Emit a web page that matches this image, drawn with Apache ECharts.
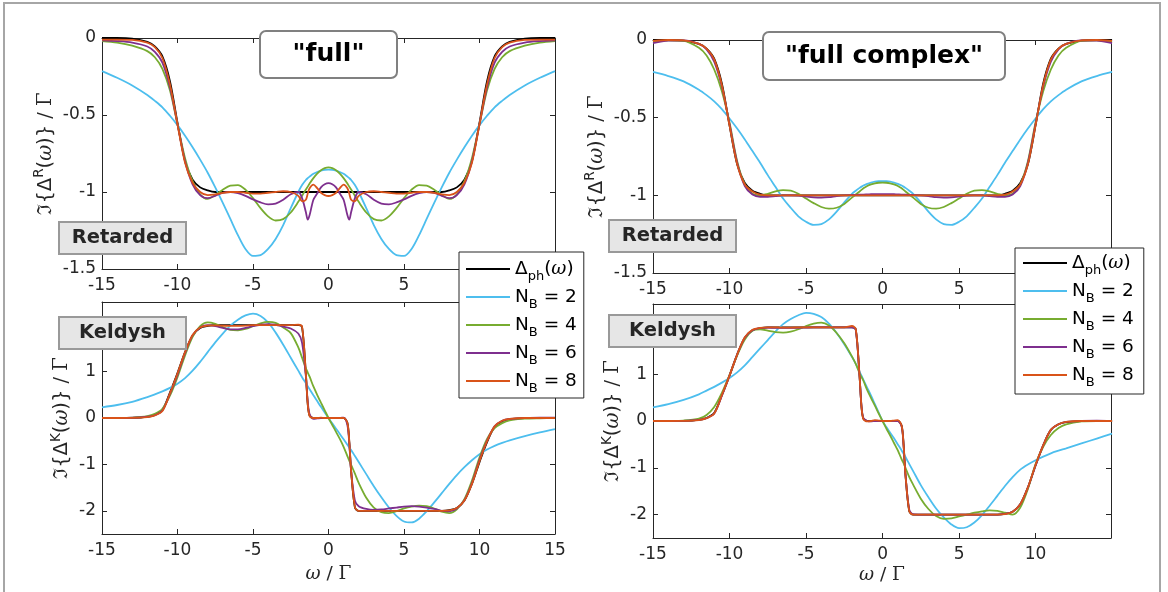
<!DOCTYPE html>
<html>
<head>
<meta charset="utf-8">
<script src="https://cdn.jsdelivr.net/npm/echarts@6/dist/echarts.min.js"></script>
<style>
  html, body { margin: 0; padding: 0; background: #fff; }
  #chart { width: 1168px; height: 592px; }
</style>
</head>
<body>
<div id="chart"></div>
<script>
// frequency grid (omega / Gamma)
const X = [-15,-14,-13,-12,-11.5,-11,-10.5,-10,-9.5,-9,-8.5,-8,-7.5,-7,-6.5,-6,-5.5,-5,-4.5,-4,-3.5,-3,-2.5,-2,-1.75,-1.5,-1.375,-1.25,-1,-0.75,-0.5,-0.25,0,
  0.25,0.5,0.75,1,1.25,1.375,1.5,1.75,2,2.5,3,3.5,4,4.5,5,5.5,6,6.5,7,7.5,8,8.5,9,9.5,10,10.5,11,11.5,12,13,14,15];

// exact Delta_ph (retarded / Keldysh)
const retBlack = [0,0,-0.004,-0.025,-0.055,-0.12,-0.28,-0.55,-0.8,-0.92,-0.97,-0.99,-1,-1,-1,-1,-1,-1,-1,-1,-1,-1,-1,-1,-1,-1,-1,-1,-1,-1,-1,-1,-1,
  -1,-1,-1,-1,-1,-1,-1,-1,-1,-1,-1,-1,-1,-1,-1,-1,-1,-1,-1,-1,-0.99,-0.97,-0.92,-0.8,-0.55,-0.28,-0.12,-0.055,-0.025,-0.004,0,0];
const kelBlack = [0,0,0.003,0.025,0.065,0.17,0.55,0.97,1.42,1.78,1.94,1.985,2,2,2,2,2,2,2,2,2,2,2,2,1.96,0.95,0.3,0.05,0,0,0,0,0,
  0,0,0,0,-0.1,-0.5,-1.15,-1.93,-2,-2,-2,-2,-2,-2,-2,-2,-2,-2,-2,-2,-1.985,-1.94,-1.78,-1.42,-0.95,-0.52,-0.19,-0.07,-0.025,-0.003,0,0];

// "full" fit, retarded
const fullRet2 = [-0.215,-0.258,-0.308,-0.37,-0.408,-0.45,-0.505,-0.566,-0.635,-0.71,-0.79,-0.875,-0.97,-1.07,-1.175,-1.28,-1.37,-1.415,-1.41,-1.37,-1.305,-1.215,-1.105,-1,-0.955,-0.922,-0.91,-0.9,-0.882,-0.87,-0.862,-0.857,-0.855,
  -0.857,-0.862,-0.87,-0.882,-0.9,-0.91,-0.922,-0.955,-1,-1.105,-1.215,-1.305,-1.37,-1.41,-1.415,-1.37,-1.28,-1.175,-1.07,-0.97,-0.875,-0.79,-0.71,-0.635,-0.566,-0.505,-0.45,-0.408,-0.37,-0.308,-0.258,-0.215];
const fullRet4 = [-0.02,-0.03,-0.05,-0.085,-0.125,-0.2,-0.34,-0.56,-0.78,-0.93,-1.015,-1.045,-1.02,-0.985,-0.958,-0.955,-0.985,-1.04,-1.105,-1.158,-1.185,-1.176,-1.133,-1.064,-1.024,-0.984,-0.965,-0.945,-0.91,-0.881,-0.859,-0.845,-0.84,
  -0.845,-0.859,-0.881,-0.91,-0.945,-0.965,-0.984,-1.024,-1.064,-1.133,-1.176,-1.185,-1.158,-1.105,-1.04,-0.985,-0.955,-0.958,-0.985,-1.02,-1.045,-1.015,-0.93,-0.78,-0.56,-0.34,-0.2,-0.125,-0.085,-0.05,-0.03,-0.02];
const fullRet6 = [-0.015,-0.02,-0.03,-0.055,-0.09,-0.16,-0.32,-0.56,-0.8,-0.95,-1.02,-1.04,-1.025,-1.005,-1,-1.008,-1.025,-1.048,-1.068,-1.08,-1.075,-1.05,-1.015,-1,-1.04,-1.13,-1.18,-1.15,-1.05,-1.01,-0.97,-0.95,-0.943,
  -0.95,-0.97,-1.01,-1.05,-1.15,-1.18,-1.13,-1.04,-1,-1.015,-1.05,-1.075,-1.08,-1.068,-1.048,-1.025,-1.008,-1,-1.005,-1.025,-1.04,-1.02,-0.95,-0.8,-0.56,-0.32,-0.16,-0.09,-0.055,-0.03,-0.02,-0.015];
const fullRet8 = [-0.01,-0.01,-0.012,-0.03,-0.06,-0.13,-0.3,-0.56,-0.81,-0.94,-1,-1.02,-1.015,-1.005,-1,-1,-1.005,-1.01,-1.01,-1.005,-1,-0.995,-1,-1.025,-1.06,-1.05,-1.01,-0.975,-0.952,-0.975,-1.005,-1.02,-1.026,
  -1.02,-1.005,-0.975,-0.952,-0.975,-1.01,-1.05,-1.06,-1.025,-1,-0.995,-1,-1.005,-1.01,-1.01,-1.005,-1,-1,-1.005,-1.015,-1.02,-1,-0.94,-0.81,-0.56,-0.3,-0.13,-0.06,-0.03,-0.012,-0.01,-0.01];

// "full" fit, Keldysh
const fullKel2 = [0.23,0.28,0.35,0.45,0.51,0.575,0.65,0.74,0.86,1.02,1.21,1.42,1.63,1.82,1.99,2.12,2.21,2.25,2.2,2.06,1.84,1.58,1.3,1.02,0.88,0.75,0.685,0.62,0.49,0.365,0.24,0.12,0,
  -0.115,-0.23,-0.345,-0.46,-0.575,-0.635,-0.69,-0.82,-0.95,-1.21,-1.47,-1.71,-1.93,-2.11,-2.23,-2.25,-2.17,-2.01,-1.82,-1.62,-1.42,-1.23,-1.06,-0.91,-0.78,-0.68,-0.6,-0.535,-0.48,-0.39,-0.31,-0.24];
const fullKel4 = [0,0.002,0.01,0.04,0.09,0.2,0.48,0.88,1.35,1.75,1.98,2.06,2.03,1.96,1.9,1.89,1.92,1.98,2.04,2.07,2.05,1.95,1.83,1.52,1.3,1.07,0.98,0.89,0.68,0.5,0.33,0.165,0,
  -0.15,-0.3,-0.45,-0.62,-0.82,-0.92,-1.01,-1.2,-1.4,-1.72,-1.93,-2.03,-2.05,-2.01,-1.95,-1.91,-1.89,-1.9,-1.95,-2.02,-2.05,-1.97,-1.75,-1.35,-0.85,-0.45,-0.22,-0.11,-0.05,-0.015,-0.005,0];
const fullKel6 = [0,0,0.005,0.03,0.06,0.16,0.52,0.93,1.4,1.78,1.95,2,1.98,1.94,1.91,1.91,1.94,1.98,2.01,2.02,2.01,1.97,1.93,1.82,1.62,0.9,0.35,0.08,-0.02,-0.01,0,0,0,
  0,0,0,0.01,-0.15,-0.55,-1.15,-1.78,-1.9,-1.96,-1.98,-1.97,-1.95,-1.93,-1.91,-1.9,-1.91,-1.93,-1.96,-2,-2.01,-1.95,-1.77,-1.4,-0.9,-0.49,-0.18,-0.06,-0.02,0,0.01,0.01];
const fullKel8 = [0,0,0.002,0.02,0.055,0.15,0.53,0.96,1.42,1.79,1.95,1.99,1.995,1.99,1.985,1.985,1.99,2,2,2,2,2,2,2.01,1.97,0.97,0.3,0.04,0,0,0.01,0,0,
  0,0,0,0,-0.1,-0.5,-1.15,-1.92,-2,-2,-2,-2,-2,-2,-2,-2,-2,-2,-2,-2,-1.99,-1.94,-1.78,-1.42,-0.93,-0.5,-0.18,-0.06,-0.02,0,0,0];

// "full complex" fit, retarded
const cplxRet2 = [-0.206,-0.232,-0.266,-0.32,-0.355,-0.395,-0.445,-0.505,-0.57,-0.64,-0.715,-0.79,-0.87,-0.945,-1.02,-1.08,-1.135,-1.17,-1.19,-1.185,-1.155,-1.105,-1.045,-0.99,-0.97,-0.952,-0.944,-0.937,-0.926,-0.918,-0.912,-0.909,-0.908,
  -0.909,-0.912,-0.918,-0.926,-0.937,-0.944,-0.952,-0.97,-0.99,-1.045,-1.105,-1.155,-1.185,-1.19,-1.17,-1.135,-1.08,-1.02,-0.945,-0.87,-0.79,-0.715,-0.64,-0.57,-0.505,-0.445,-0.395,-0.355,-0.32,-0.266,-0.232,-0.206];
const cplxRet4 = [-0.013,-0.003,-0.005,-0.05,-0.1,-0.19,-0.33,-0.53,-0.78,-0.93,-0.99,-1,-0.99,-0.975,-0.966,-0.97,-0.99,-1.02,-1.05,-1.075,-1.086,-1.08,-1.055,-1.015,-0.995,-0.975,-0.965,-0.955,-0.94,-0.93,-0.923,-0.919,-0.918,
  -0.919,-0.923,-0.93,-0.94,-0.955,-0.965,-0.975,-0.995,-1.015,-1.055,-1.08,-1.086,-1.075,-1.05,-1.02,-0.99,-0.97,-0.966,-0.975,-0.99,-1,-0.99,-0.93,-0.78,-0.53,-0.33,-0.19,-0.1,-0.05,-0.005,-0.003,-0.013];
const cplxRet6 = [-0.02,-0.004,-0.003,-0.025,-0.06,-0.14,-0.3,-0.54,-0.79,-0.94,-0.995,-1.01,-1.01,-1.005,-1,-1,-1.002,-1.008,-1.013,-1.015,-1.012,-1.005,-1,-0.998,-0.997,-0.996,-0.995,-0.995,-0.994,-0.993,-0.992,-0.992,-0.992,
  -0.992,-0.992,-0.993,-0.994,-0.995,-0.995,-0.996,-0.997,-0.998,-1,-1.005,-1.012,-1.015,-1.013,-1.008,-1.002,-1,-1,-1.005,-1.01,-1.01,-0.995,-0.94,-0.79,-0.54,-0.3,-0.14,-0.06,-0.025,-0.003,-0.004,-0.02];
const cplxRet8 = [-0.005,0,-0.002,-0.025,-0.055,-0.125,-0.29,-0.55,-0.8,-0.93,-0.975,-0.995,-1,-1,-1,-1,-1,-1,-1,-1,-1,-1,-1,-1,-1,-1,-1,-1,-1,-1,-1,-1,-1,
  -1,-1,-1,-1,-1,-1,-1,-1,-1,-1,-1,-1,-1,-1,-1,-1,-1,-1,-1,-1,-0.995,-0.975,-0.93,-0.8,-0.55,-0.29,-0.125,-0.055,-0.025,-0.002,0,-0.005];

// "full complex" fit, Keldysh
const cplxKel2 = [0.29,0.36,0.45,0.57,0.65,0.73,0.82,0.92,1.04,1.19,1.37,1.55,1.73,1.91,2.07,2.18,2.26,2.31,2.29,2.22,2.08,1.88,1.64,1.37,1.22,1.05,0.97,0.88,0.71,0.54,0.36,0.18,0,
  -0.13,-0.25,-0.37,-0.5,-0.63,-0.7,-0.77,-0.92,-1.07,-1.37,-1.63,-1.87,-2.06,-2.21,-2.29,-2.27,-2.17,-2.01,-1.81,-1.6,-1.39,-1.2,-1.04,-0.93,-0.84,-0.76,-0.69,-0.635,-0.585,-0.48,-0.375,-0.27];
const cplxKel4 = [0,0.002,0.01,0.05,0.13,0.3,0.6,0.98,1.4,1.74,1.93,1.96,1.93,1.9,1.89,1.91,1.96,2.03,2.08,2.1,2.04,1.88,1.66,1.38,1.22,1.02,0.94,0.86,0.66,0.49,0.33,0.16,0,
  -0.16,-0.31,-0.47,-0.63,-0.82,-0.9,-1,-1.2,-1.36,-1.66,-1.88,-2.03,-2.09,-2.08,-2.04,-2,-1.96,-1.93,-1.91,-1.92,-1.96,-2,-1.85,-1.45,-0.92,-0.55,-0.3,-0.15,-0.07,-0.01,0,0];
const cplxKel6 = [0,0,0.003,0.022,0.06,0.16,0.54,0.97,1.42,1.78,1.94,1.985,1.995,1.99,1.99,1.99,1.99,1.995,2,2,2,2,2,2,1.95,0.95,0.32,0.06,0,-0.01,0,0,0,
  0,0,0,0,-0.12,-0.52,-1.15,-1.9,-1.99,-2,-2,-2,-2,-2,-2,-2,-2,-2,-2,-2,-1.985,-1.94,-1.78,-1.42,-0.95,-0.52,-0.19,-0.07,-0.02,0,0.005,0];
const cplxKel8 = [0,0,0.002,0.02,0.06,0.16,0.55,0.97,1.42,1.79,1.95,1.99,2,2,1.995,1.995,2,2,2,2,2,2,2,2.03,1.97,0.95,0.3,0.04,-0.01,0,0.02,0.01,0,
  0,0,0.01,0.02,-0.1,-0.5,-1.15,-1.93,-2,-2,-2,-2,-2,-2,-2,-2,-2,-2,-2,-2,-1.99,-1.94,-1.78,-1.42,-0.94,-0.52,-0.19,-0.07,-0.02,0,0,0];

// ticks
const xTicksFull = [-15, -10, -5, 0, 5, 10, 15];
const xTicksCplx = [-15, -10, -5, 0, 5, 10];
const retTicks = [-1.5, -1, -0.5, 0];
const kelTicks = [-2, -1, 0, 1, 2];

const seriesNames = ['ph', 'nb2', 'nb4', 'nb6', 'nb8'];
const seriesColors = ['#000000', '#4DBEEE', '#77AC30', '#7E2F8E', '#D95319'];
const legendLabels = {
  ph: '{n|Δ}{b|ph}{n|(}{w|ω}{n|)}',
  nb2: '{n|N}{b|B}{n| = 2}',
  nb4: '{n|N}{b|B}{n| = 4}',
  nb6: '{n|N}{b|B}{n| = 6}',
  nb8: '{n|N}{b|B}{n| = 8}'
};

const INK = '#262626';
const FONT = 'DejaVu Sans';

const grids = [
  { left: 102, top: 38, width: 453, height: 231 },   // full, retarded
  { left: 102, top: 302, width: 453, height: 232 },  // full, Keldysh
  { left: 653, top: 40, width: 458, height: 233 },   // full complex, retarded
  { left: 653, top: 304, width: 458, height: 234 }   // full complex, Keldysh
];

const panels = [
  { xmax: 15, xt: xTicksFull, ymin: -1.5, ymax: 0, yt: retTicks, ylab: 'R', yGap: 42, xGap: 0, ys: [retBlack, fullRet2, fullRet4, fullRet6, fullRet8] },
  { xmax: 15, xt: xTicksFull, ymin: -2.5, ymax: 2.5, yt: kelTicks, ylab: 'K', yGap: 27, xGap: 31, ys: [kelBlack, fullKel2, fullKel4, fullKel6, fullKel8] },
  { xmax: 14.93, xt: xTicksCplx, ymin: -1.5, ymax: 0, yt: retTicks, ylab: 'R', yGap: 42, xGap: 0, ys: [retBlack, cplxRet2, cplxRet4, cplxRet6, cplxRet8] },
  { xmax: 14.93, xt: xTicksCplx, ymin: -2.5, ymax: 2.5, yt: kelTicks, ylab: 'K', yGap: 27, xGap: 28, ys: [kelBlack, cplxKel2, cplxKel4, cplxKel6, cplxKel8] }
];

const nameRich = {
  m: { fontFamily: 'DejaVu Serif', fontSize: 19.5, lineHeight: 26, color: INK },
  w: { fontFamily: 'DejaVu Serif', fontStyle: 'italic', fontSize: 19.5, lineHeight: 26, color: INK },
  s: { fontFamily: FONT, fontSize: 13.5, lineHeight: 14, verticalAlign: 'top', color: INK }
};
const xNameRich = {
  m: { fontFamily: 'DejaVu Serif', fontSize: 18.5, color: INK },
  w: { fontFamily: 'DejaVu Serif', fontStyle: 'italic', fontSize: 18.5, color: INK }
};

const xAxes = [], yAxes = [], series = [];
panels.forEach((p, i) => {
  const line = { onZero: false, lineStyle: { color: INK, width: 1 } };
  const tick = { inside: true, length: 5, lineStyle: { color: INK }, customValues: p.xt };
  const lab = { color: INK, fontSize: 17, fontFamily: FONT, margin: 8, customValues: p.xt };
  xAxes.push({
    type: 'value', gridIndex: i, position: 'bottom', min: -15, max: p.xmax,
    axisLine: line, axisTick: tick, axisLabel: lab, splitLine: { show: false },
    name: p.xGap ? '{w|ω} / {m|Γ}' : '', nameLocation: 'middle', nameGap: p.xGap,
    nameTextStyle: { color: INK, fontFamily: FONT, fontSize: 18.5, rich: xNameRich }
  });
  xAxes.push({
    type: 'value', gridIndex: i, position: 'top', min: -15, max: p.xmax,
    axisLine: line, axisTick: tick, axisLabel: { show: false }, splitLine: { show: false }
  });
  const ytick = { inside: true, length: 5, lineStyle: { color: INK }, customValues: p.yt };
  yAxes.push({
    type: 'value', gridIndex: i, position: 'left', min: p.ymin, max: p.ymax,
    axisLine: line, axisTick: ytick, splitLine: { show: false },
    axisLabel: { color: INK, fontSize: 17, fontFamily: FONT, margin: 6, customValues: p.yt },
    name: '{m|ℑ}{Δ{s|' + p.ylab + '}({w|ω})} / {m|Γ}', nameLocation: 'middle', nameGap: p.yGap, nameRotate: 90,
    nameTextStyle: { color: INK, fontFamily: FONT, fontSize: 19.5, lineHeight: 26, rich: nameRich }
  });
  yAxes.push({
    type: 'value', gridIndex: i, position: 'right', min: p.ymin, max: p.ymax,
    axisLine: line, axisTick: ytick, axisLabel: { show: false }, splitLine: { show: false }
  });
  p.ys.forEach((ys, k) => {
    series.push({
      type: 'line', name: seriesNames[k], xAxisIndex: 2 * i, yAxisIndex: 2 * i,
      data: X.map((x, j) => [x, ys[j]]),
      symbol: 'none', showSymbol: false, smooth: 0.3, clip: true,
      lineStyle: { width: 1.8, color: seriesColors[k] }, itemStyle: { color: seriesColors[k] },
      z: 2 + k
    });
  });
});

const legendText = {
  color: '#000', fontFamily: FONT, fontSize: 18.5,
  backgroundColor: 'rgba(255,255,255,0)',
  rich: {
    n: { fontFamily: FONT, fontSize: 18.5, lineHeight: 28, color: '#000' },
    b: { fontFamily: FONT, fontSize: 13, lineHeight: 15, verticalAlign: 'bottom', color: '#000' },
    w: { fontFamily: 'DejaVu Serif', fontStyle: 'italic', fontSize: 18.5, lineHeight: 28, color: '#000' }
  }
};
function mkLegend(left, top, padding) {
  return {
    left: left, top: top, orient: 'vertical', itemGap: 0, itemWidth: 44, itemHeight: 2, icon: 'rect',
    padding: padding, backgroundColor: '#fff', borderColor: INK, borderWidth: 1, borderRadius: 0,
    data: seriesNames, formatter: n => legendLabels[n], textStyle: legendText, selectedMode: false
  };
}

function labelBox(x, y, w, h, text, opt) {
  return {
    type: 'group', z: 100,
    children: [
      { type: 'rect', z: 100, shape: { x: x, y: y, width: w, height: h, r: opt.r },
        style: { fill: opt.fill, stroke: opt.stroke, lineWidth: 2 } },
      { type: 'text', z: 101, x: x + w / 2, y: y + h / 2,
        style: { text: text, fill: opt.color, font: opt.font, align: 'center', verticalAlign: 'middle',
                 textAlign: 'center', textVerticalAlign: 'middle' } }
    ]
  };
}
const titleOpt = { r: 6, fill: '#fff', stroke: '#808080', color: '#000', font: 'bold 25px "DejaVu Sans"' };
const tagOpt = { r: 0, fill: '#e6e6e6', stroke: '#999999', color: INK, font: 'bold 19.5px "DejaVu Sans"' };

const chart = echarts.init(document.getElementById('chart'));
chart.setOption({
  animation: false,
  backgroundColor: '#fff',
  grid: grids,
  xAxis: xAxes,
  yAxis: yAxes,
  legend: [mkLegend(459, 252, [3, 7, 3, 7]), mkLegend(1015, 248, [1, 10, 5, 8])],
  series: series,
  graphic: [
    { type: 'rect', z: 0, shape: { x: 4, y: 3, width: 1156, height: 600 },
      style: { fill: 'none', stroke: '#a6a6a6', lineWidth: 2 } },
    labelBox(260, 31, 137, 47, '"full"', titleOpt),
    labelBox(763, 32, 242, 48, '"full complex"', titleOpt),
    labelBox(59, 222, 127, 32, 'Retarded', tagOpt),
    labelBox(59, 317, 127, 32, 'Keldysh', tagOpt),
    labelBox(609, 220, 127, 32, 'Retarded', tagOpt),
    labelBox(609, 315, 127, 32, 'Keldysh', tagOpt)
  ]
});
</script>
</body>
</html>
